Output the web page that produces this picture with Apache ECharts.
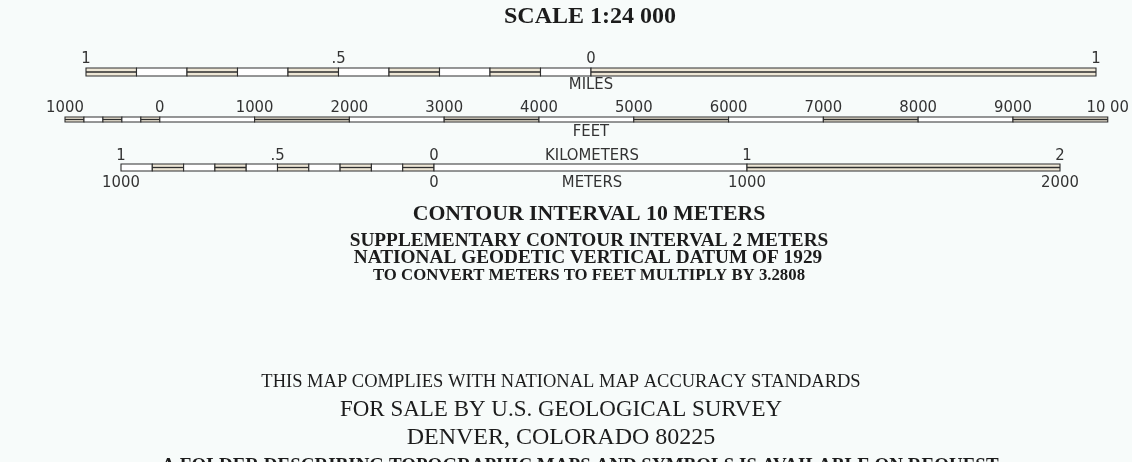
<!DOCTYPE html>
<html>
<head>
<meta charset="utf-8">
<script src="https://cdn.jsdelivr.net/npm/echarts@6/dist/echarts.min.js"></script>
<style>
html,body{margin:0;padding:0;background:#f7fbfa;}
#chart{width:1132px;height:462px;}
</style>
</head>
<body>
<div id="chart"></div>
<script>
// ---- data ----
const milesBreaks = [-1, -0.9, -0.8, -0.7, -0.6, -0.5, -0.4, -0.3, -0.2, -0.1, 0, 1];
const milesPattern = [1, 0, 1, 0, 1, 0, 1, 0, 1, 0, 1];
const milesTickValues = [-1, -0.5, 0, 1];
const milesTickLabels = ['1', '.5', '0', '1'];

const feetBreaks = [-1000, -800, -600, -400, -200, 0, 1000, 2000, 3000, 4000, 5000, 6000, 7000, 8000, 9000, 10000];
const feetPattern = [1, 0, 1, 0, 1, 0, 1, 0, 1, 0, 1, 0, 1, 0, 1];
const feetTickValues = [-1000, 0, 1000, 2000, 3000, 4000, 5000, 6000, 7000, 8000, 9000, 10000];
const feetTickLabels = ['1000', '0', '1000', '2000', '3000', '4000', '5000', '6000', '7000', '8000', '9000', '10 00'];

const kmBreaks = [-1, -0.9, -0.8, -0.7, -0.6, -0.5, -0.4, -0.3, -0.2, -0.1, 0, 1, 2];
const kmPattern = [0, 1, 0, 1, 0, 1, 0, 1, 0, 1, 0, 1];
const kmTickValues = [-1, -0.5, 0, 1, 2];
const kmTickLabels = ['1', '.5', '0', '1', '2'];
const meterTickValues = [-1000, 0, 1000, 2000];
const meterTickLabels = ['1000', '0', '1000', '2000'];

const titleText = 'SCALE 1:24 000';
const unitNames = ['MILES', 'FEET', 'KILOMETERS', 'METERS'];
const contourLines = [
  'CONTOUR INTERVAL 10 METERS',
  'SUPPLEMENTARY CONTOUR INTERVAL 2 METERS',
  'NATIONAL GEODETIC VERTICAL DATUM OF 1929',
  'TO CONVERT METERS TO FEET MULTIPLY BY 3.2808'
];
const footerLines = [
  'THIS MAP COMPLIES WITH NATIONAL MAP ACCURACY STANDARDS',
  'FOR SALE BY U.S. GEOLOGICAL SURVEY',
  'DENVER, COLORADO 80225',
  'A FOLDER DESCRIBING TOPOGRAPHIC MAPS AND SYMBOLS IS AVAILABLE ON REQUEST'
];

// ---- styling ----
const INK = '#2e2e2e';
const SANS = "'Liberation Sans Narrow', 'DejaVu Sans Condensed', 'Roboto', sans-serif";
const SERIF = "'Liberation Serif', 'DejaVu Serif', serif";

function segs(breaks, pattern) {
  return breaks.slice(0, -1).map((b, i) => [b, breaks[i + 1], pattern[i]]);
}

function renderSeg(params, api) {
  const x0 = api.value(0), x1 = api.value(1), dbl = api.value(2);
  const p0 = api.coord([x0, 1]);
  const p1 = api.coord([x1, 0]);
  const w = p1[0] - p0[0], h = p1[1] - p0[1];
  const children = [{
    type: 'rect',
    shape: { x: p0[0], y: p0[1], width: w, height: h },
    style: { fill: dbl ? '#eee7d6' : '#ffffff', stroke: INK, lineWidth: 1.1 }
  }];
  if (dbl) {
    children.push({
      type: 'line',
      shape: { x1: p0[0], y1: p0[1] + h / 2, x2: p1[0], y2: p0[1] + h / 2 },
      style: { stroke: INK, lineWidth: 1.3 }
    });
  }
  return { type: 'group', children };
}

function lbl(values, labels, margin) {
  return {
    customValues: values,
    formatter: v => { const i = values.findIndex(t => Math.abs(t - v) < 1e-9); return i >= 0 ? labels[i] : ''; },
    margin: margin,
    fontSize: 16.5,
    fontFamily: SANS,
    color: '#333',
    showMinLabel: true,
    showMaxLabel: true
  };
}

function xAx(gridIndex, pos, min, max, label) {
  return {
    gridIndex, type: 'value', position: pos, min, max,
    axisLine: { show: false }, axisTick: { show: false }, splitLine: { show: false },
    axisLabel: label
  };
}

function txt(text, x, y, font, color) {
  return {
    type: 'text', x, y, silent: true,
    style: { text, font, fill: color || '#1c1c1c', align: 'center', verticalAlign: 'middle', textAlign: 'center', textVerticalAlign: 'middle' }
  };
}

const chart = echarts.init(document.getElementById('chart'), null, { renderer: 'canvas' });
chart.setOption({
  backgroundColor: '#f7fbfa',
  animation: false,
  grid: [
    { left: 86, width: 1010, top: 68, height: 8 },
    { left: 65, width: 1052, top: 117, height: 5 },
    { left: 121, width: 939, top: 164, height: 7 }
  ],
  xAxis: [
    xAx(0, 'top', -1, 1, lbl(milesTickValues, milesTickLabels, 0.5)),
    xAx(1, 'top', -1000, 10000, lbl(feetTickValues, feetTickLabels, 0.5)),
    xAx(2, 'top', -1, 2, lbl(kmTickValues, kmTickLabels, 0)),
    xAx(2, 'bottom', -1000, 2000, lbl(meterTickValues, meterTickLabels, 3.5))
  ],
  yAxis: [
    { gridIndex: 0, type: 'value', min: 0, max: 1, show: false },
    { gridIndex: 1, type: 'value', min: 0, max: 1, show: false },
    { gridIndex: 2, type: 'value', min: 0, max: 1, show: false }
  ],
  series: [
    { type: 'custom', xAxisIndex: 0, yAxisIndex: 0, renderItem: renderSeg, data: segs(milesBreaks, milesPattern), encode: { x: [0, 1] } },
    { type: 'custom', xAxisIndex: 1, yAxisIndex: 1, renderItem: renderSeg, data: segs(feetBreaks, feetPattern), encode: { x: [0, 1] } },
    { type: 'custom', xAxisIndex: 2, yAxisIndex: 2, renderItem: renderSeg, data: segs(kmBreaks, kmPattern), encode: { x: [0, 1] } }
  ],
  graphic: [
    txt(titleText, 590, 17, 'bold 24px ' + SERIF),
    txt(unitNames[0], 591, 85, '16.5px ' + SANS, '#333'),
    txt(unitNames[1], 591, 132, '16.5px ' + SANS, '#333'),
    txt(unitNames[2], 592, 156, '16.5px ' + SANS, '#333'),
    txt(unitNames[3], 592, 183, '16.5px ' + SANS, '#333'),
    txt(contourLines[0], 589, 214, 'bold 21.8px ' + SERIF),
    txt(contourLines[1], 589, 241, 'bold 19.3px ' + SERIF),
    txt(contourLines[2], 588, 258, 'bold 19.3px ' + SERIF),
    txt(contourLines[3], 589, 276, 'bold 16.8px ' + SERIF),
    txt(footerLines[0], 561, 382, '18.5px ' + SERIF),
    txt(footerLines[1], 561, 410, '23px ' + SERIF),
    txt(footerLines[2], 561, 438, '24px ' + SERIF),
    txt(footerLines[3], 580, 466, 'bold 19px ' + SERIF)
  ]
});
</script>
</body>
</html>
